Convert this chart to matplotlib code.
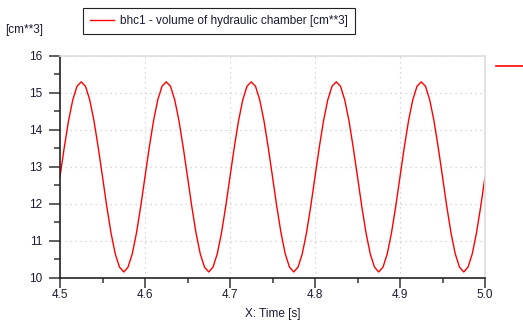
import matplotlib.pyplot as plt
from matplotlib.lines import Line2D
from matplotlib.ticker import MultipleLocator

# time samples, every 0.005 s
time = [4.5 + 0.005 * i for i in range(101)]

# volume [cm**3]
volume = [
    12.73, 13.52, 14.24, 14.81, 15.18, 15.30, 15.18, 14.81, 14.24, 13.52,
    12.73, 11.93, 11.21, 10.64, 10.28, 10.15, 10.28, 10.64, 11.21, 11.93,
    12.73, 13.52, 14.24, 14.81, 15.18, 15.30, 15.18, 14.81, 14.24, 13.52,
    12.73, 11.93, 11.21, 10.64, 10.28, 10.15, 10.28, 10.64, 11.21, 11.93,
    12.73, 13.52, 14.24, 14.81, 15.18, 15.30, 15.18, 14.81, 14.24, 13.52,
    12.73, 11.93, 11.21, 10.64, 10.28, 10.15, 10.28, 10.64, 11.21, 11.93,
    12.73, 13.52, 14.24, 14.81, 15.18, 15.30, 15.18, 14.81, 14.24, 13.52,
    12.73, 11.93, 11.21, 10.64, 10.28, 10.15, 10.28, 10.64, 11.21, 11.93,
    12.73, 13.52, 14.24, 14.81, 15.18, 15.30, 15.18, 14.81, 14.24, 13.52,
    12.73, 11.93, 11.21, 10.64, 10.28, 10.15, 10.28, 10.64, 11.21, 11.93,
    12.73,
]

label = "bhc1 - volume of hydraulic chamber [cm**3]"
text_color = "#1a1a33"

plt.rcParams['font.family'] = ['Liberation Sans', 'DejaVu Sans']
plt.rcParams['font.size'] = 8.5

fig = plt.figure(figsize=(5.23, 3.21), dpi=100)
ax = fig.add_axes([60 / 523, 1 - 277.5 / 321, 425 / 523, 221.5 / 321])

line, = ax.plot(time, volume, color="#ff0000", linewidth=1.0)

ax.set_xlim(4.5, 5.0)
ax.set_ylim(10, 16)
ax.xaxis.set_major_locator(MultipleLocator(0.1))
ax.xaxis.set_minor_locator(MultipleLocator(0.05))
ax.yaxis.set_major_locator(MultipleLocator(1))
ax.yaxis.set_minor_locator(MultipleLocator(0.5))
ax.set_xticklabels([f"{v:.1f}" for v in ax.get_xticks()])

ax.tick_params(axis="y", which="major", length=8, width=1.2, color="#444444",
               labelcolor=text_color, pad=5)
ax.tick_params(axis="y", which="minor", length=4.3, width=1.2, color="#444444")
ax.tick_params(axis="x", which="major", length=7, width=1.2, color="#444444",
               labelcolor=text_color, pad=1.5)
ax.tick_params(axis="x", which="minor", length=3.6, width=1.2, color="#444444")

ax.grid(which="major", color="#cccccc", linestyle=(0, (1, 3)), linewidth=0.9)

for side in ["left", "bottom"]:
    ax.spines[side].set_color("#222222")
    ax.spines[side].set_linewidth(1.2)
for side in ["top", "right"]:
    ax.spines[side].set_color("#dddddd")
    ax.spines[side].set_linewidth(1.2)

ax.set_xlabel("X: Time [s]", color=text_color, labelpad=5)
fig.text(5 / 523, 1 - 30 / 321, "[cm**3]", color=text_color, va="center")

leg = fig.legend([line], [label], loc="upper left",
                 bbox_to_anchor=(83 / 523, 1 - 8 / 321), borderaxespad=0,
                 fancybox=False, framealpha=1, edgecolor="#222222",
                 handlelength=2.0, handletextpad=0.5, borderpad=0.6,
                 labelcolor=text_color)
leg.get_frame().set_linewidth(0.8)

# stray legend segment at the right edge
fig.add_artist(Line2D([496 / 523, 1.0], [1 - 66 / 321, 1 - 66 / 321],
                      color="#ff0000", linewidth=1.2))

fig.savefig("out.png", dpi=100)
